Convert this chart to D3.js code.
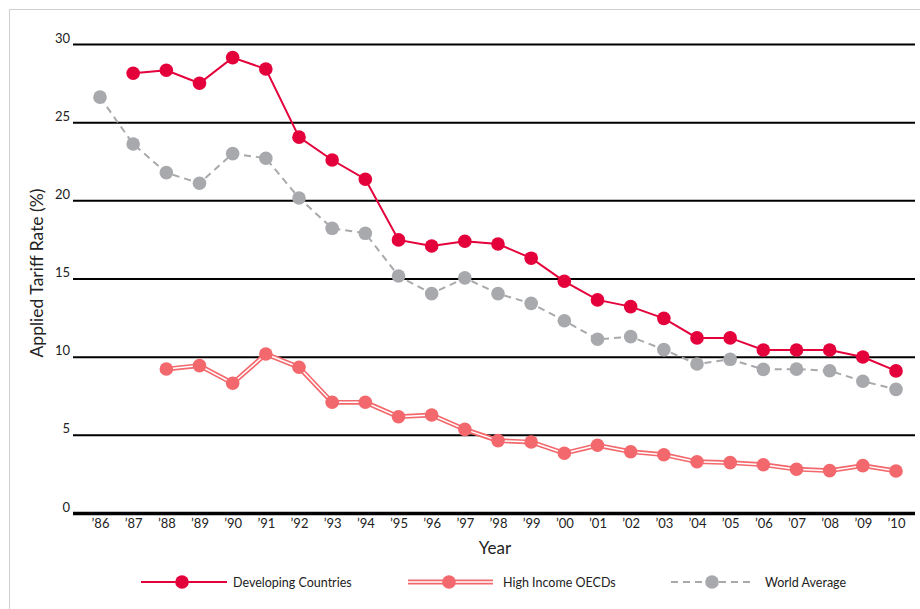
<!DOCTYPE html>
<html>
<head>
<meta charset="utf-8">
<script src="https://cdn.jsdelivr.net/npm/d3@7"></script>
<style>
  html, body { margin: 0; padding: 0; background: #fff; }
  svg { display: block; font-family: Lato, "Noto Sans", sans-serif; }
</style>
</head>
<body>
<svg id="chart" width="920" height="609"></svg>
<script>
const years = ["’86","’87","’88","’89","’90","’91","’92","’93","’94","’95","’96","’97","’98","’99","’00","’01","’02","’03","’04","’05","’06","’07","’08","’09","’10"];
const developing = [null, 28.13, 28.32, 27.49, 29.13, 28.4, 24.04, 22.58, 21.35, 17.47, 17.08, 17.38, 17.21, 16.3, 14.82, 13.63, 13.2, 12.45, 11.2, 11.2, 10.43, 10.43, 10.43, 9.98, 9.09];
const highIncome = [null, null, 9.21, 9.43, 8.3, 10.17, 9.32, 7.08, 7.08, 6.16, 6.27, 5.35, 4.63, 4.54, 3.82, 4.33, 3.92, 3.73, 3.28, 3.22, 3.09, 2.8, 2.71, 3.03, 2.69];
const worldAvg = [26.6, 23.6, 21.77, 21.09, 22.99, 22.69, 20.15, 18.21, 17.89, 15.16, 14.03, 15.04, 14.03, 13.41, 12.3, 11.11, 11.28, 10.45, 9.53, 9.83, 9.19, 9.2, 9.1, 8.43, 7.91];
const yTicks = [0, 5, 10, 15, 20, 25, 30];
const seriesNames = ["Developing Countries", "High Income OECDs", "World Average"];

const colors = { dev: "#e4003b", high: "#f2686c", world: "#a7a9ac" };

const svg = d3.select("#chart");

// light border frame
svg.append("rect").attr("x", 9.5).attr("y", 9.5).attr("width", 1000).attr("height", 1000)
  .attr("fill", "none").attr("stroke", "#cfcfcf").attr("stroke-width", 1);

const left = 73, right = 915;
const x = d3.scalePoint().domain(years).range([100, 896]);
const y = d3.scaleLinear().domain([0, 30]).range([513, 44]);

// y axis gridlines
const yAxis = d3.axisLeft(y).tickValues(yTicks).tickSize(-(right - left)).tickFormat(d3.format("d"));
const gy = svg.append("g").attr("transform", `translate(${left},0)`).call(yAxis);
gy.select(".domain").remove();
gy.selectAll(".tick line").attr("stroke", "#000").attr("stroke-width", d => d === 0 ? 3.5 : 2);
gy.selectAll(".tick text").attr("x", -3).attr("dy", "-2px").attr("fill", "#222")
  .style("font-size", "13px").style("font-family", "Lato, sans-serif");

// x axis
const xAxis = d3.axisBottom(x).tickSize(0).tickPadding(6);
const gx = svg.append("g").attr("transform", `translate(0,${y(0)})`).call(xAxis);
gx.select(".domain").remove();
gx.selectAll(".tick text").attr("fill", "#222").style("font-size", "13px").style("font-family", "Lato, sans-serif");

// axis titles
svg.append("text").attr("transform", `translate(43,273) rotate(-90)`).attr("text-anchor", "middle")
  .style("font-size", "17.5px").attr("fill", "#222").text("Applied Tariff Rate (%)");
svg.append("text").attr("x", 495).attr("y", 554).attr("text-anchor", "middle")
  .style("font-size", "17px").attr("fill", "#222").text("Year");

const line = d3.line().defined(d => d.v !== null).x(d => x(d.k)).y(d => y(d.v));
const toPts = arr => arr.map((v, i) => ({ k: years[i], v }));

// world average (dashed)
svg.append("path").datum(toPts(worldAvg)).attr("d", line).attr("fill", "none")
  .attr("stroke", colors.world).attr("stroke-width", 2).attr("stroke-dasharray", "7,5");
// high income (double line)
svg.append("path").datum(toPts(highIncome)).attr("d", line).attr("fill", "none")
  .attr("stroke", colors.high).attr("stroke-width", 4.8).attr("stroke-linejoin", "round");
svg.append("path").datum(toPts(highIncome)).attr("d", line).attr("fill", "none")
  .attr("stroke", "#fff").attr("stroke-width", 1.5).attr("stroke-linejoin", "round");
// developing
svg.append("path").datum(toPts(developing)).attr("d", line).attr("fill", "none")
  .attr("stroke", colors.dev).attr("stroke-width", 2);

function dots(arr, color) {
  svg.append("g").selectAll("circle").data(toPts(arr).filter(d => d.v !== null)).join("circle")
    .attr("cx", d => x(d.k)).attr("cy", d => y(d.v)).attr("r", 6.8).attr("fill", color);
}
dots(worldAvg, colors.world);
dots(highIncome, colors.high);
dots(developing, colors.dev);

// legend
const ly = 582;
const lg = svg.append("g");
// developing
lg.append("line").attr("x1", 141).attr("x2", 227).attr("y1", ly).attr("y2", ly).attr("stroke", colors.dev).attr("stroke-width", 2);
lg.append("circle").attr("cx", 182).attr("cy", ly).attr("r", 6.8).attr("fill", colors.dev);
lg.append("text").attr("x", 233).attr("y", ly + 4.5).style("font-size", "12.5px").attr("fill", "#222").text(seriesNames[0]);
// high income
lg.append("line").attr("x1", 408).attr("x2", 493).attr("y1", ly).attr("y2", ly).attr("stroke", colors.high).attr("stroke-width", 4.8);
lg.append("line").attr("x1", 408).attr("x2", 493).attr("y1", ly).attr("y2", ly).attr("stroke", "#fff").attr("stroke-width", 1.5);
lg.append("circle").attr("cx", 449).attr("cy", ly).attr("r", 6.8).attr("fill", colors.high);
lg.append("text").attr("x", 503).attr("y", ly + 4.5).style("font-size", "12.5px").attr("fill", "#222").text(seriesNames[1]);
// world
lg.append("line").attr("x1", 671).attr("x2", 755).attr("y1", ly).attr("y2", ly).attr("stroke", colors.world).attr("stroke-width", 2).attr("stroke-dasharray", "7,5");
lg.append("circle").attr("cx", 712).attr("cy", ly).attr("r", 6.8).attr("fill", colors.world);
lg.append("text").attr("x", 765).attr("y", ly + 4.5).style("font-size", "12.5px").attr("fill", "#222").text(seriesNames[2]);
</script>
</body>
</html>
